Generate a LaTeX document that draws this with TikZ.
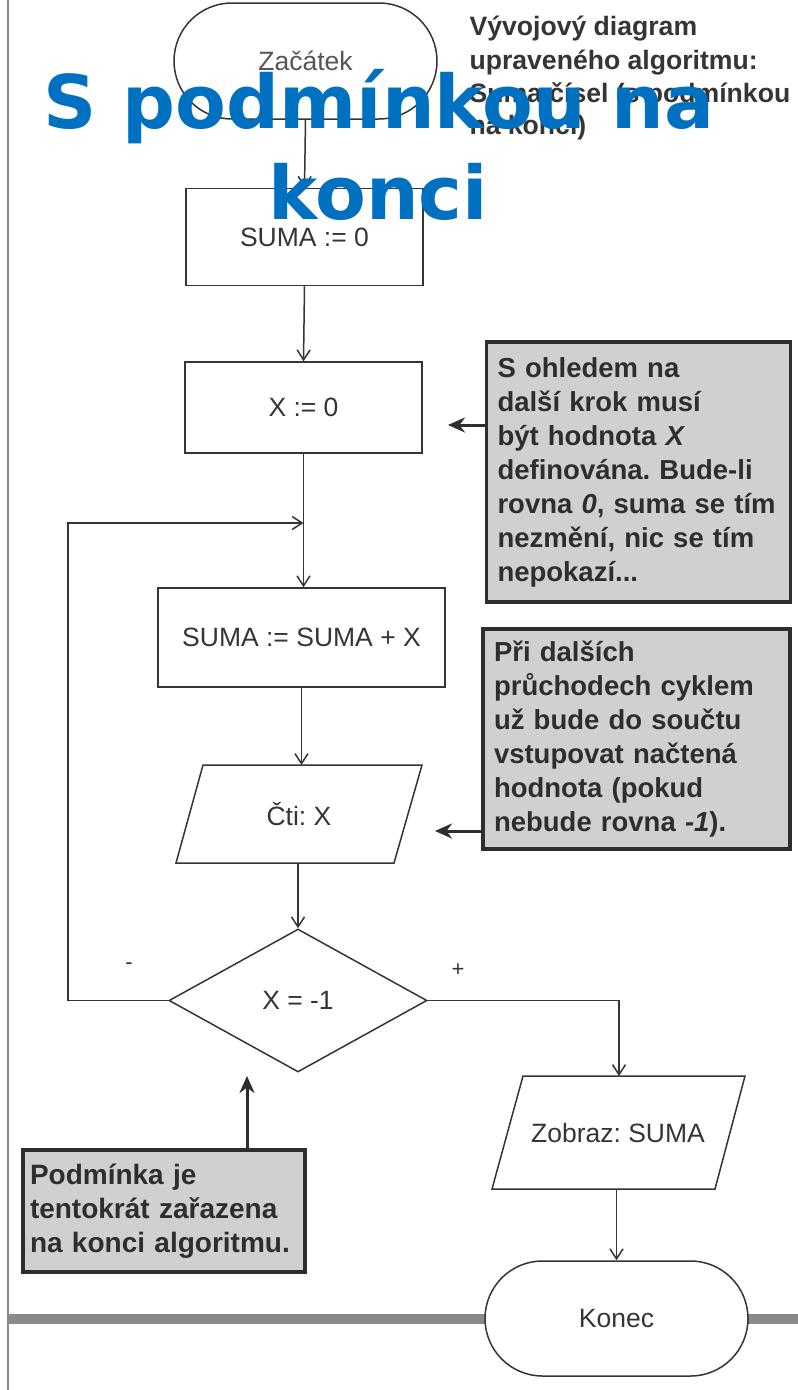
\documentclass[tikz,border=0pt]{standalone}
\usepackage{fontspec}
\setmainfont{Liberation Sans}
\newfontfamily\bannerfont{DejaVu Sans}
\usetikzlibrary{arrows.meta,shapes.geometric,shapes.misc,calc}
\frenchspacing

\definecolor{ink}{HTML}{353535}
\definecolor{softink}{HTML}{555555}
\definecolor{notefill}{HTML}{D0D0D0}
\definecolor{noteedge}{HTML}{2E2E2E}
\definecolor{bannerblue}{HTML}{0070C0}
\definecolor{rulegray}{HTML}{8A8A8A}

\begin{document}
\begin{tikzpicture}[x=1pt,y=-1pt,
  every node/.style={text=ink, font=\fontsize{26.5}{30}\selectfont},
  flow/.style={draw=ink, line width=1.5pt, -{Straight Barb[length=10pt,width=13pt]}},
  link/.style={draw=ink, line width=1.5pt},
  proc/.style={draw=ink, line width=1.5pt, fill=white, rectangle, inner sep=0pt},
  term/.style={draw=ink, line width=1.5pt, fill=white, rounded rectangle, inner sep=0pt},
  decision/.style={draw=ink, line width=1.5pt, fill=white, diamond, inner sep=0pt},
  note/.style={draw=noteedge, line width=3.5pt, fill=notefill, align=left,
    inner xsep=11pt, inner ysep=0pt, text=noteedge,
    font=\bfseries\fontsize{27.5}{34}\selectfont},
  notearrow/.style={draw=noteedge, line width=3pt, -{Stealth[length=17pt,width=15pt]}},
  heading/.style={anchor=base west, text=ink, font=\bfseries\fontsize{26.6}{33}\selectfont},
  banner/.style={anchor=base, text=bannerblue, font=\bannerfont\bfseries\fontsize{74}{90}\selectfont},
]
% page
\fill[white] (0,0) rectangle (798,1390);
\useasboundingbox (0,0) rectangle (798,1390);
\draw[rulegray, line width=1.5pt] (8,0) -- (8,1390);
\fill[rulegray] (8,1314) rectangle (798,1324);

% heading beside the chart
\node[heading] (h1) at (466,35) {Vývojový diagram};
\node[heading] (h2) at (466,69) {upraveného algoritmu:};
\node[heading] (h3) at (466,102) {Suma čísel (s podmínkou};
\node[heading] (h4) at (466,134) {na konci)};

% flowchart blocks
\node[term, minimum width=263pt, minimum height=116pt, text=softink] (start) at (305.5,61) {Začátek};
\node[proc, minimum width=237pt, minimum height=97pt] (s0) at (304.5,237) {SUMA := 0};
\node[proc, minimum width=237pt, minimum height=91pt] (x0) at (303.5,407.5) {X := 0};
\node[proc, minimum width=287pt, minimum height=99pt] (sx) at (301.5,637.5) {SUMA := SUMA + X};

% input block (parallelogram)
\draw[link, fill=white] (203,765) -- (422,765) -- (394,863) -- (176,863) -- cycle;
\node (cti) at (299,814) {Čti: X};
\coordinate (ctitop) at (301.5,765);
\coordinate (ctibot) at (298,863);

\node[decision, minimum width=258pt, minimum height=143pt] (dec) at (298,1000.5) {X = -1};
\node[font=\fontsize{22}{26}\selectfont] (minus) at (129,966) {-};
\node[font=\fontsize{22}{26}\selectfont] (plus) at (458,970) {+};

% output block (parallelogram)
\draw[link, fill=white] (523,1076) -- (745,1076) -- (715,1189) -- (492,1189) -- cycle;
\node (zob) at (618,1133) {Zobraz: SUMA};
\coordinate (zobtop) at (619,1076);
\coordinate (zobbot) at (616.5,1189);

\node[term, minimum width=263pt, minimum height=115pt] (end) at (616.5,1318.5) {Konec};

% connectors
\draw[flow] (start.south) -- (s0.north);
\draw[flow] (s0.south) -- (x0.north);
\draw[flow] (x0.south) -- (x0.south |- sx.north);
\coordinate (join) at (x0.south |- 0,523);
\coordinate (loop) at (dec.west -| 68,0);
\draw[flow] (dec.west) -- (loop) |- (join);
\draw[flow] (sx.south) -- (ctitop);
\draw[flow] (ctibot) -- (dec.north);
\coordinate (turn) at (dec.east -| zobtop);
\draw[flow] (dec.east) -- (turn) -- (zobtop);
\draw[flow] (zobbot) -- (end.north);

% side notes
\node[note, minimum width=304pt, minimum height=260pt, text width=282pt] (n1) at (638.5,472)
  {S ohledem na\\ další krok musí\\ být hodnota \textit{X}\\ definována. Bude-li\\ rovna \textit{0}, suma se tím\\ nezmění, nic se tím\\ nepokazí...};
\node[note, minimum width=307pt, minimum height=220pt, text width=285pt] (n2) at (636.5,739)
  {Při dalších\\ průchodech cyklem\\ už bude do součtu\\ vstupovat načtená\\ hodnota (pokud\\ nebude rovna \textit{-1}).};
\node[note, minimum width=282pt, minimum height=122pt, text width=268pt, inner xsep=7pt,
  font=\bfseries\fontsize{28}{34}\selectfont] (n3) at (164,1211)
  {Podmínka je\\ tentokrát zařazena\\ na konci algoritmu.};

\coordinate (a1) at (448,425);
\coordinate (a2) at (435,831);
\coordinate (a3) at (247,1076);
\draw[notearrow] (n1.west |- a1) -- (a1);
\draw[notearrow] (n2.west |- a2) -- (a2);
\draw[notearrow] (n3.north -| a3) -- (a3);

% banner title on top
\node[banner] (b1) at (379,128) {S podmínkou na};
\node[banner] (b2) at (378,219) {konci};
\end{tikzpicture}
\end{document}
